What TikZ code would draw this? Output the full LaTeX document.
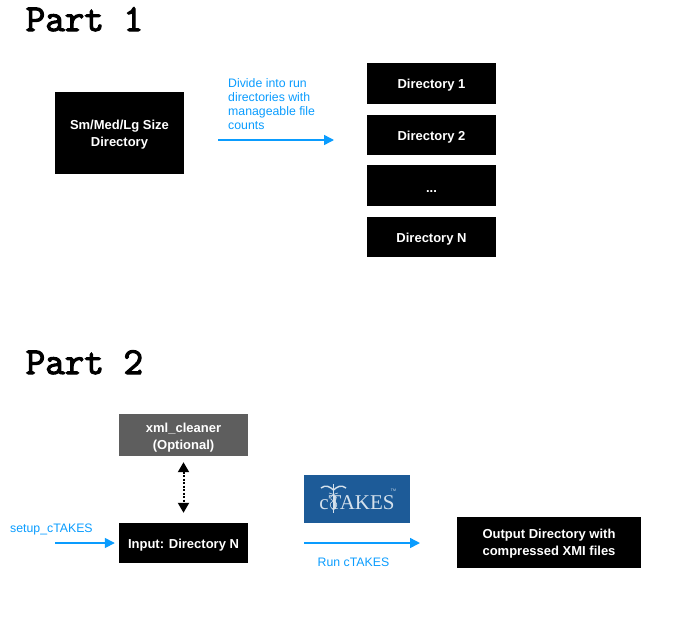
\documentclass[tikz,border=0pt]{standalone}
\usepackage{fontspec}
\setmainfont{Liberation Sans}
\newfontfamily\titlefont[FakeBold=3]{Latin Modern Mono}
\newfontfamily\logofont{Liberation Serif}
\usetikzlibrary{arrows.meta}
\definecolor{runblue}{HTML}{0A9CFE}
\definecolor{logoblue}{HTML}{1D5B98}
\definecolor{logowhite}{HTML}{D5E1EC}
\definecolor{cleangray}{HTML}{5E5E5E}
\tikzset{
  blackbox/.style={fill=black, text=white, font=\fontsize{13}{17}\selectfont\bfseries, align=center, inner sep=0pt, minimum width=129pt, execute at begin node={\rule{0pt}{#1}}},
  blackbox/.default=13pt,
  parttitle/.style={font=\fontsize{38}{38}\selectfont\titlefont, anchor=base west, inner sep=0pt},
  runlabel/.style={text=runblue, font=\fontsize{12.3}{14}\selectfont, inner sep=0pt},
  runarrow/.style={draw=runblue, line width=1.5pt, -{Triangle[length=10pt,width=10pt]}},
}

\begin{document}
\begin{tikzpicture}[x=1pt, y=-1pt]
\useasboundingbox (0,0) rectangle (675,627);

% part 1
\draw(25.5,31) node[parttitle] (partone) {Part 1};
\draw(119.5,133) node[blackbox=29pt, minimum height=82pt] (source) {Sm/Med/Lg Size\\Directory};
\draw(431.5,83.5) node[blackbox, minimum height=41pt] (dirone) {Directory 1};
\draw(431.5,135) node[blackbox, minimum height=40pt] (dirtwo) {Directory 2};
\draw(431.5,185.5) node[blackbox, minimum height=41pt] (dirdots) {...};
\draw(431.5,237) node[blackbox, minimum height=40pt] (dirn) {Directory N};
\draw(228,104) node[runlabel, anchor=west, align=left] (dividelabel) {Divide into run\\directories with\\manageable file\\counts};
\coordinate (dividefrom) at (218,140);
\coordinate (divideto) at (334,140);
\draw[runarrow] (dividefrom) -- (divideto);

% part 2
\draw(25.5,374) node[parttitle] (parttwo) {Part 2};
\draw(183.5,435) node[blackbox=31pt, fill=cleangray, minimum height=42pt] (cleaner) {xml\_cleaner\\(Optional)};
\draw(183.5,543) node[blackbox, minimum height=40pt] (input) {Input: Directory N};
\draw(549,542.5) node[blackbox=29pt, minimum width=184pt, minimum height=51pt] (output) {Output Directory with\\compressed XMI files};
\draw[line width=2pt, dash pattern=on 2pt off 1.5pt, shorten <=6pt, shorten >=10pt, {Triangle[length=10pt,width=11pt]}-{Triangle[length=10pt,width=11pt]}] (cleaner) -- (input);
\draw(10,529) node[runlabel, anchor=west] (setuplabel) {setup\_cTAKES};
\coordinate (setupfrom) at (55,543);
\draw[runarrow, shorten >=4pt] (setupfrom) -- (input);

% logo
\draw(357,499) node[fill=logoblue, minimum width=106pt, minimum height=48pt, inner sep=0pt] (logo) {};
\draw(357,503) node[text=logowhite, font=\fontsize{21}{21}\logofont, inner sep=0pt] (logotext) {cTAKES};
\draw(393.5,490.5) node[text=logowhite, font=\fontsize{3.5}{4}\selectfont, inner sep=0pt] (logotm) {TM};
\draw[logowhite, line width=1.2pt] (333.5,484) -- (333.5,513);
\draw[logowhite, line width=1.4pt] (321,488) .. controls (326,484) and (330,487) .. (333.5,490) .. controls (337,487) and (341,484) .. (346,488);
\draw[logowhite, line width=0.6pt] (329,493) .. controls (338,495) and (338,499) .. (333.5,501) .. controls (329,503) and (329,506) .. (333.5,510);
\draw[logowhite, line width=0.6pt] (338,493) .. controls (329,495) and (329,499) .. (333.5,501) .. controls (338,503) and (338,506) .. (333.5,510);

\coordinate (runfrom) at (304,543);
\coordinate (runto) at (420,543);
\draw[runarrow] (runfrom) -- (runto);
\draw(353.5,562) node[runlabel] (runlabel) {Run cTAKES};

\end{tikzpicture}
\end{document}
